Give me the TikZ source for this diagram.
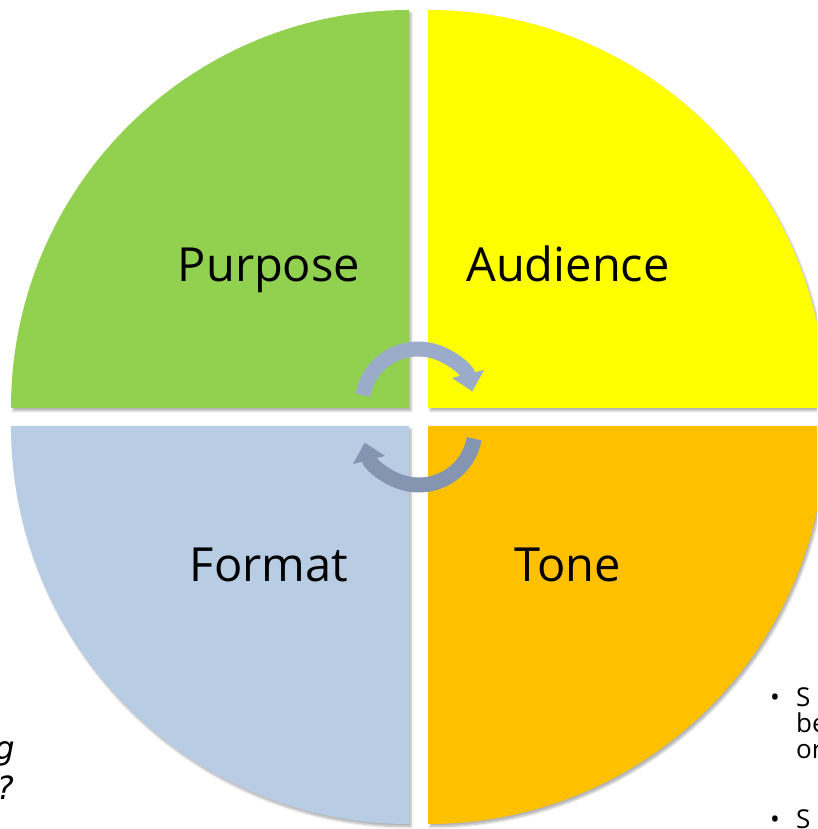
\documentclass[tikz,border=0pt]{standalone}
\usepackage{fontspec}
\setmainfont{Open Sans}
\newfontfamily\handfont{DejaVu Sans}
\usepackage{tikz}
\usetikzlibrary{arrows.meta, shadows.blur, positioning}
\definecolor{qgreen}{HTML}{92D050}
\definecolor{qyellow}{HTML}{FFFF00}
\definecolor{qblue}{HTML}{B8CCE4}
\definecolor{qorange}{HTML}{FFC000}
\definecolor{cyctop}{HTML}{9BACCB}
\definecolor{cycbot}{HTML}{8595B1}
\tikzset{
    x=1pt, y=1pt,
    quad/.style = {blur shadow={shadow xshift=2pt, shadow yshift=-3pt, shadow blur steps=6, shadow opacity=30}},
    lbl/.style = {inner sep=0pt, anchor=base, font=\fontsize{47}{56}\selectfont},
    side/.style = {inner sep=0pt, anchor=base west, text depth=0pt, font=\fontsize{26}{24}\selectfont},
    hand/.style = {inner sep=0pt, anchor=base east, font=\handfont\itshape\fontsize{32}{40}\selectfont},
    cyc/.style = {line width=15pt, -{Triangle[width=32pt,length=18pt]}}
}
\begin{document}
\begin{tikzpicture}
  \useasboundingbox (0,0) rectangle (817,829);
  \clip (0,0) rectangle (817,829);

  % quadrants
  \fill[qgreen, quad]  (409,421) -- ++(-398,0) arc[start angle=180, end angle=90, radius=398] -- cycle;
  \fill[qyellow, quad] (428,421) -- ++(0,398) arc[start angle=90, end angle=0, radius=398] -- cycle;
  \fill[qblue, quad]   (409,403) -- ++(0,-398) arc[start angle=270, end angle=180, radius=398] -- cycle;
  \fill[qorange, quad] (428,403) -- ++(398,0) arc[start angle=0, end angle=-90, radius=398] -- cycle;

  % labels
  \node[lbl] (purpose)  at (269,547) {Purpose};
  \node[lbl] (audience) at (568,547) {Audience};
  \node[lbl] (format)   at (269,247) {Format};
  \node[lbl] (tone)     at (568,247) {Tone};

  % cycle arrows
  \coordinate (ctop) at (418,424);
  \coordinate (cbot) at (419,400);
  \draw[cyc, cyctop] (ctop) ++(170:56) arc[start angle=170, end angle=14, radius=56];
  \draw[cyc, cycbot] (cbot) ++(-10:56) arc[start angle=-10, end angle=-166, radius=56];

  % cut-off side texts
  \node[hand] (lg) at (15,69) {g};
  \node[hand] (lq) at (14,29) {?};
  \node[side] (dot1) at (770,122) {\textbullet};
  \node[side] (s1)   at (796,122) {S};
  \node[side] (s1b)  at (796,96)  {be};
  \node[side] (s1c)  at (796,70)  {or};
  \node[side] (dot2) at (770,1)   {\textbullet};
  \node[side] (s2)   at (796,1)   {S};
\end{tikzpicture}
\end{document}
